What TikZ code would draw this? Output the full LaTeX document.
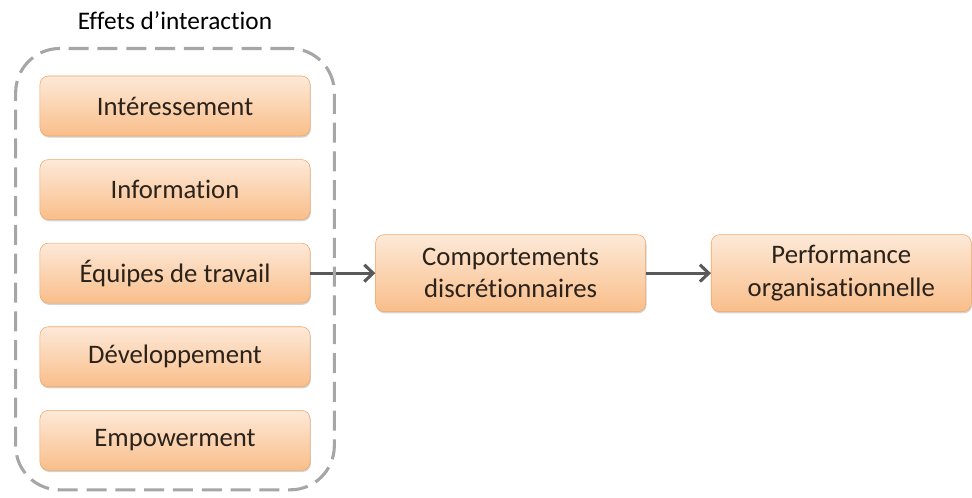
\documentclass[tikz,border=0pt]{standalone}
\usepackage{fontspec}
\setmainfont{Carlito}[Ligatures=NoCommon]
\usepackage{tikz}
\usetikzlibrary{arrows.meta, positioning, fit, shadows}
\definecolor{boxtop}{HTML}{FDE9D8}
\definecolor{boxbot}{HTML}{F9BE8A}
\definecolor{boxline}{HTML}{F0A868}
\definecolor{boxtext}{HTML}{2B221A}
\definecolor{dashgray}{HTML}{A6A6A6}
\definecolor{arrgray}{HTML}{595959}

\begin{document}
\begin{tikzpicture}[x=0.025cm, y=-0.025cm, font=\fontsize{19}{23}\selectfont,
        box/.style={rounded corners=6pt, top color=boxtop, bottom color=boxbot, draw=boxline,
          text=boxtext, minimum width=6.75cm, minimum height=1.5cm, align=center,
          drop shadow={shadow xshift=0.6pt, shadow yshift=-1.2pt, opacity=0.35}},
        arr/.style={-{Straight Barb[length=2.2mm,width=4.2mm,line width=2.2pt]}, draw=arrgray, line width=2.2pt}]
        \useasboundingbox (0,0) rectangle (972,498);
        % left column
        \node[box] (inter) at (175,106) {Intéressement};
        \node[box, below=0.575cm of inter] (info) {Information};
        \node[box, below=0.575cm of info] (equip) {Équipes de travail};
        \node[box, below=0.575cm of equip] (dev) {Développement};
        \node[box, below=0.575cm of dev] (empow) {Empowerment};
        % right chain
        \node[box, right=1.625cm of equip, minimum height=1.925cm] (comport) {Comportements\\discrétionnaires};
        \node[box, right=1.625cm of comport, minimum width=6.5cm, minimum height=1.925cm] (perf) {Performance\\organisationnelle};
        \draw[arr] (equip) -- (comport);
        \draw[arr] (comport) -- (perf);
        % dashed group
        \node[fit=(inter)(empow), inner xsep=0.6cm, inner ysep=0.58cm, yshift=0.1cm,
          draw=dashgray, line width=2.2pt, dash pattern=on 0.5cm off 0.22cm, rounded corners=1.1cm] (effets) {};
        \node[above=0.3cm of effets, font=\fontsize{18}{21}\selectfont, text=black] (titre) {Effets d’interaction};
\end{tikzpicture}
\end{document}
